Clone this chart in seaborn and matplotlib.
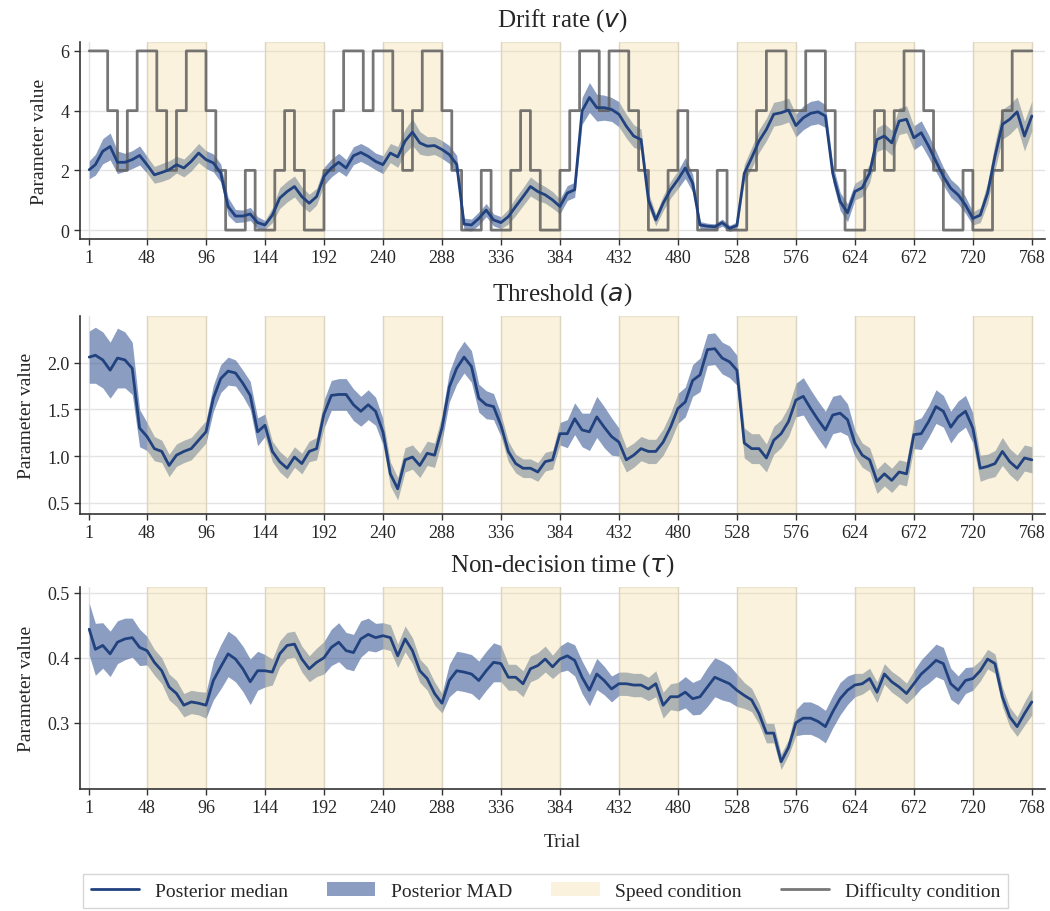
import numpy as np
import pandas as pd
import matplotlib
matplotlib.use("Agg")
import matplotlib.pyplot as plt
import seaborn as sns
from matplotlib.lines import Line2D
from matplotlib.patches import Patch

# ---------------- data ----------------
trials = np.r_[1, np.arange(6, 769, 6)]          # sampled trial numbers
trial_all = np.arange(1, 769)

# difficulty condition, one value per block of 8 trials (96 blocks)
difficulty_blocks = [
    6, 6, 4, 2, 4, 6, 6, 4, 2, 4, 6, 6, 4, 2, 0, 0, 2, 0, 0, 2, 4, 2, 0, 0,
    2, 4, 6, 6, 4, 6, 6, 4, 2, 4, 6, 6, 4, 2, 0, 0, 2, 0, 0, 2, 4, 2, 0, 0,
    2, 4, 6, 6, 4, 6, 6, 4, 2, 0, 0, 2, 4, 2, 0, 0, 2, 0, 0, 2, 4, 6, 6, 4,
    4, 6, 6, 4, 2, 0, 0, 2, 4, 2, 4, 6, 6, 4, 2, 0, 0, 2, 0, 0, 2, 4, 6, 6,
]
speed_starts = [48, 144, 240, 336, 432, 528, 624, 720]
speed_width = 48
x_ticks = [1, 48, 96, 144, 192, 240, 288, 336, 384, 432, 480, 528, 576, 624, 672, 720, 768]

drift_median = [
    2.02, 2.19, 2.64, 2.80, 2.27, 2.27, 2.36, 2.50, 2.19, 1.85, 1.93, 2.02, 2.19, 2.08, 2.30, 2.58,
    2.36, 2.25, 1.91, 0.79, 0.47, 0.47, 0.54, 0.25, 0.17, 0.50, 1.07, 1.29, 1.46, 1.12, 0.90, 1.12, 1.80,
    2.08, 2.27, 2.08, 2.49, 2.60, 2.47, 2.30, 2.19, 2.58, 2.45, 2.98, 3.28, 2.92, 2.81, 2.83, 2.70,
    2.53, 2.20, 0.20, 0.17, 0.39, 0.67, 0.34, 0.25, 0.45, 0.79, 1.12, 1.46, 1.29, 1.18, 1.01, 0.79,
    1.24, 1.35, 3.99, 4.44, 4.10, 4.10, 4.04, 3.88, 3.48, 3.15, 3.03, 1.01, 0.34, 0.90, 1.35, 1.69,
    2.08, 1.57, 0.17, 0.13, 0.11, 0.25, 0.06, 0.15, 1.90, 2.42, 2.98, 3.37, 3.88, 3.93, 4.02, 3.50,
    3.76, 3.91, 3.96, 3.82, 1.90, 0.96, 0.58, 1.29, 1.42, 1.91, 3.03, 3.15, 2.92, 3.65, 3.71, 3.09,
    3.26, 2.81, 2.30, 1.80, 1.40, 1.18, 0.84, 0.39, 0.50, 1.24, 2.47, 3.54, 3.71, 3.96, 3.15, 3.82,
]
drift_mad = [
    0.30, 0.35, 0.42, 0.45, 0.38, 0.30, 0.30, 0.32, 0.28, 0.28, 0.30, 0.30, 0.28, 0.30, 0.32, 0.32,
    0.30, 0.30, 0.30, 0.30, 0.22, 0.20, 0.22, 0.20, 0.15, 0.25, 0.35, 0.35, 0.35, 0.32, 0.30, 0.28, 0.30,
    0.30, 0.30, 0.28, 0.30, 0.30, 0.30, 0.28, 0.30, 0.32, 0.35, 0.40, 0.45, 0.38, 0.32, 0.30, 0.30,
    0.30, 0.30, 0.20, 0.20, 0.22, 0.22, 0.20, 0.20, 0.25, 0.30, 0.30, 0.32, 0.30, 0.28, 0.28, 0.25,
    0.25, 0.25, 0.45, 0.50, 0.45, 0.42, 0.40, 0.42, 0.40, 0.38, 0.35, 0.25, 0.20, 0.25, 0.28, 0.30,
    0.35, 0.30, 0.12, 0.10, 0.10, 0.12, 0.10, 0.12, 0.30, 0.35, 0.38, 0.38, 0.40, 0.40, 0.40, 0.38,
    0.40, 0.40, 0.40, 0.38, 0.30, 0.30, 0.30, 0.28, 0.30, 0.32, 0.40, 0.42, 0.42, 0.45, 0.45, 0.40,
    0.40, 0.38, 0.35, 0.30, 0.30, 0.30, 0.28, 0.22, 0.25, 0.35, 0.45, 0.50, 0.50, 0.50, 0.50, 0.50,
]

threshold_median = [
    2.06, 2.08, 2.03, 1.92, 2.05, 2.03, 1.94, 1.30, 1.21, 1.08, 1.05, 0.90, 1.01, 1.05, 1.08, 1.17,
    1.26, 1.62, 1.83, 1.91, 1.89, 1.78, 1.65, 1.26, 1.33, 1.05, 0.94, 0.87, 0.99, 0.92, 1.05, 1.08, 1.45,
    1.65, 1.66, 1.66, 1.55, 1.48, 1.55, 1.48, 1.26, 0.81, 0.65, 0.96, 0.99, 0.90, 1.03, 1.01, 1.30,
    1.74, 1.94, 2.06, 1.96, 1.62, 1.55, 1.53, 1.33, 1.05, 0.92, 0.87, 0.87, 0.83, 0.94, 0.96, 1.24,
    1.24, 1.40, 1.28, 1.26, 1.42, 1.31, 1.21, 1.15, 0.96, 1.01, 1.08, 1.05, 1.05, 1.15, 1.31, 1.51,
    1.58, 1.81, 1.87, 2.14, 2.15, 2.05, 2.01, 1.92, 1.14, 1.08, 1.08, 0.98, 1.17, 1.24, 1.37, 1.60,
    1.64, 1.51, 1.39, 1.28, 1.44, 1.46, 1.39, 1.14, 1.01, 0.96, 0.73, 0.81, 0.74, 0.83, 0.81, 1.23,
    1.24, 1.37, 1.53, 1.48, 1.31, 1.42, 1.48, 1.30, 0.87, 0.89, 0.92, 1.05, 0.94, 0.87, 0.98, 0.96,
]
threshold_mad = [
    0.28, 0.30, 0.30, 0.30, 0.32, 0.30, 0.28, 0.20, 0.15, 0.13, 0.12, 0.12, 0.12, 0.12, 0.12, 0.12,
    0.12, 0.14, 0.15, 0.15, 0.14, 0.14, 0.15, 0.15, 0.12, 0.11, 0.11, 0.11, 0.11, 0.11, 0.11, 0.12, 0.15,
    0.16, 0.17, 0.17, 0.17, 0.16, 0.16, 0.15, 0.14, 0.13, 0.12, 0.13, 0.13, 0.13, 0.13, 0.13, 0.14,
    0.16, 0.17, 0.17, 0.17, 0.15, 0.15, 0.14, 0.12, 0.11, 0.10, 0.10, 0.10, 0.10, 0.10, 0.10, 0.12,
    0.15, 0.17, 0.18, 0.20, 0.22, 0.22, 0.20, 0.15, 0.13, 0.13, 0.13, 0.13, 0.13, 0.14, 0.15, 0.16,
    0.16, 0.17, 0.18, 0.17, 0.17, 0.17, 0.17, 0.16, 0.16, 0.16, 0.16, 0.15, 0.15, 0.15, 0.16, 0.18,
    0.20, 0.20, 0.20, 0.20, 0.20, 0.20, 0.17, 0.14, 0.13, 0.13, 0.13, 0.13, 0.13, 0.13, 0.13, 0.15,
    0.17, 0.17, 0.18, 0.17, 0.17, 0.17, 0.17, 0.16, 0.14, 0.13, 0.14, 0.15, 0.14, 0.14, 0.14, 0.14,
]

ndt_median = [
    0.444, 0.413, 0.419, 0.406, 0.424, 0.429, 0.431, 0.416, 0.411, 0.393, 0.380, 0.355, 0.345, 0.327, 0.332, 0.330,
    0.327, 0.365, 0.386, 0.406, 0.398, 0.383, 0.363, 0.380, 0.380, 0.378, 0.406, 0.419, 0.421, 0.398, 0.383, 0.393, 0.400,
    0.416, 0.424, 0.411, 0.408, 0.429, 0.436, 0.431, 0.434, 0.431, 0.403, 0.429, 0.411, 0.380, 0.368, 0.345, 0.330,
    0.365, 0.380, 0.378, 0.375, 0.365, 0.380, 0.393, 0.391, 0.370, 0.370, 0.360, 0.383, 0.388, 0.398, 0.386, 0.398,
    0.403, 0.396, 0.370, 0.350, 0.375, 0.365, 0.352, 0.360, 0.360, 0.358, 0.358, 0.352, 0.360, 0.327, 0.340, 0.340,
    0.347, 0.337, 0.340, 0.355, 0.370, 0.365, 0.360, 0.350, 0.342, 0.335, 0.314, 0.284, 0.284, 0.240, 0.262, 0.300,
    0.307, 0.307, 0.302, 0.294, 0.317, 0.337, 0.350, 0.358, 0.360, 0.368, 0.347, 0.375, 0.363, 0.355, 0.345, 0.360,
    0.375, 0.385, 0.396, 0.391, 0.360, 0.350, 0.365, 0.368, 0.380, 0.398, 0.391, 0.340, 0.309, 0.294, 0.314, 0.332,
]
ndt_mad = [
    0.040, 0.040, 0.035, 0.035, 0.033, 0.032, 0.030, 0.028, 0.022, 0.020, 0.020, 0.020, 0.020, 0.018, 0.018, 0.018,
    0.020, 0.030, 0.034, 0.035, 0.035, 0.035, 0.035, 0.030, 0.025, 0.020, 0.020, 0.020, 0.020, 0.020, 0.020, 0.022, 0.025,
    0.028, 0.030, 0.028, 0.028, 0.028, 0.025, 0.022, 0.020, 0.020, 0.018, 0.020, 0.020, 0.018, 0.018, 0.018, 0.015,
    0.025, 0.030, 0.030, 0.030, 0.030, 0.030, 0.030, 0.028, 0.020, 0.020, 0.020, 0.020, 0.020, 0.020, 0.018, 0.020,
    0.022, 0.024, 0.025, 0.024, 0.024, 0.022, 0.020, 0.018, 0.018, 0.018, 0.018, 0.018, 0.020, 0.020, 0.020, 0.022,
    0.024, 0.025, 0.027, 0.030, 0.030, 0.030, 0.028, 0.025, 0.020, 0.018, 0.016, 0.015, 0.015, 0.012, 0.012, 0.020,
    0.025, 0.025, 0.025, 0.025, 0.025, 0.025, 0.022, 0.018, 0.016, 0.016, 0.016, 0.016, 0.016, 0.016, 0.016, 0.020,
    0.022, 0.024, 0.025, 0.025, 0.024, 0.022, 0.020, 0.018, 0.016, 0.015, 0.015, 0.015, 0.015, 0.015, 0.018, 0.020,
]

titles = ["Drift rate ($v$)", "Threshold ($a$)", "Non-decision time ($\\tau$)"]
y_ticks = [[0, 2, 4, 6], [0.5, 1.0, 1.5, 2.0], [0.3, 0.4, 0.5]]
y_limits = [(-0.3, 6.3), (0.38, 2.5), (0.198, 0.509)]

# ---------------- style ----------------
sns.set_style("ticks")
plt.rcParams["font.family"] = ["Liberation Serif", "DejaVu Serif"]
plt.rcParams["mathtext.fontset"] = "dejavusans"

MED_COLOR = "#21427e"
BAND_COLOR = "#2d4f8e"
SPEED_COLOR = "#f2dc9c"
DIFF_COLOR = "#5f5f5f"

fig = plt.figure(figsize=(10.5, 9.12), dpi=100)
ax_pos = [
    [0.0762, 0.7368, 0.9188, 0.2161],
    [0.0762, 0.4353, 0.9188, 0.2171],
    [0.0762, 0.1338, 0.9188, 0.2215],
]
axes = [fig.add_axes(p) for p in ax_pos]

series = [
    (np.array(drift_median), np.array(drift_mad)),
    (np.array(threshold_median), np.array(threshold_mad)),
    (np.array(ndt_median), np.array(ndt_mad)),
]

difficulty = np.repeat(difficulty_blocks, 8)

for i, ax in enumerate(axes):
    med, mad = series[i]
    df = pd.DataFrame({"trial": trials, "median": med})
    ax.grid(True, color="#e3e3e3", linewidth=1.0)
    ax.set_axisbelow(True)
    for s in speed_starts:
        ax.axvspan(s, s + speed_width, facecolor=SPEED_COLOR, alpha=0.35,
                   edgecolor="#cdbf9a", linewidth=1.0, zorder=1.5)
    ax.fill_between(trials, med - mad, med + mad, color=BAND_COLOR,
                    alpha=0.55, linewidth=0, zorder=1)
    if i == 0:
        dd = pd.DataFrame({"trial": trial_all, "difficulty": difficulty})
        sns.lineplot(data=dd, x="trial", y="difficulty", ax=ax, color=DIFF_COLOR,
                     linewidth=2.0, alpha=0.85, drawstyle="steps-pre",
                     estimator=None, zorder=2)
    sns.lineplot(data=df, x="trial", y="median", ax=ax, color=MED_COLOR,
                 linewidth=2.0, estimator=None, zorder=3)
    ax.set_xlim(-6.5, 778.5)
    ax.set_ylim(*y_limits[i])
    ax.set_xticks(x_ticks)
    ax.set_xticklabels([str(t) for t in x_ticks])
    ax.set_yticks(y_ticks[i])
    if i == 0:
        ax.set_yticklabels([str(v) for v in y_ticks[i]])
    else:
        ax.set_yticklabels([f"{v:.1f}" for v in y_ticks[i]])
    ax.tick_params(labelsize=13, length=4, width=1.0, color="#333333")
    ax.set_title(titles[i], fontsize=18, pad=12)
    ax.set_ylabel("Parameter value", fontsize=14, labelpad=9)
    ax.set_xlabel("")
    sns.despine(ax=ax)
    for sp in ["left", "bottom"]:
        ax.spines[sp].set_linewidth(1.2)
        ax.spines[sp].set_color("#333333")

axes[2].set_xlabel("Trial", fontsize=14, labelpad=12)

handles = [
    Line2D([0], [0], color=MED_COLOR, linewidth=2.0),
    Patch(facecolor=BAND_COLOR, alpha=0.55, edgecolor="none"),
    Patch(facecolor=SPEED_COLOR, alpha=0.35, edgecolor="none"),
    Line2D([0], [0], color=DIFF_COLOR, linewidth=2.0, alpha=0.85),
]
labels = ["Posterior median", "Posterior MAD", "Speed condition", "Difficulty condition"]
fig.legend(handles, labels, loc="lower center", bbox_to_anchor=(0.5195, -0.007),
           ncol=4, fontsize=14, frameon=True, handlelength=2.5,
           columnspacing=2.0, fancybox=False, edgecolor="#cccccc")

fig.savefig("out.png", dpi=100)
